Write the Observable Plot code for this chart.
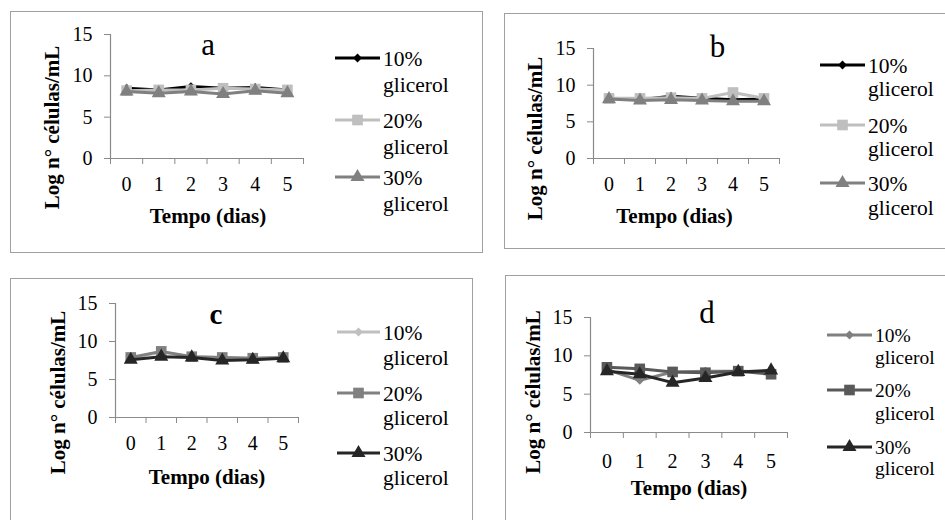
<!DOCTYPE html>
<html><head><meta charset="utf-8">
<script src="https://cdn.jsdelivr.net/npm/d3@7"></script>
<script src="https://cdn.jsdelivr.net/npm/@observablehq/plot@0.6"></script>
<style>
body{margin:0;background:#fff;}
#root{position:relative;width:945px;height:520px;overflow:hidden;font-family:"Liberation Serif","Times New Roman",serif;background:#fff;}
.panel{position:absolute;border:1px solid #a0a0a0;box-sizing:border-box;}
.plot{position:absolute;overflow:visible;}
.legend{position:absolute;overflow:visible;}
.legend text{font-family:"Liberation Serif","Times New Roman",serif;fill:#000;}
</style></head><body><div id="root"></div>
<script>
// ---- data ----
const days = [0, 1, 2, 3, 4, 5];
const seriesNames = ["10% glicerol", "20% glicerol", "30% glicerol"];
const yTicks = [0, 5, 10, 15];
const panelLetters = ["a", "b", "c", "d"];
const yLabel = "Log n\u00b0 células/mL";
const xLabel = "Tempo (dias)";

const a10 = [8.5, 8.3, 8.7, 8.5, 8.6, 8.3];
const a20 = [8.2, 8.3, 8.3, 8.5, 8.4, 8.3];
const a30 = [8.1, 7.9, 8.1, 7.8, 8.2, 7.9];

const b10 = [8.2, 8.0, 8.5, 8.2, 8.0, 8.1];
const b20 = [8.2, 8.2, 8.3, 8.2, 9.0, 8.2];
const b30 = [8.1, 7.9, 8.0, 7.9, 7.8, 7.8];

const c10 = [7.8, 8.6, 8.0, 7.9, 7.8, 7.9];
const c20 = [7.9, 8.7, 8.0, 7.9, 7.8, 7.9];
const c30 = [7.6, 8.0, 7.9, 7.5, 7.6, 7.8];

const d10 = [8.2, 6.8, 7.9, 8.0, 8.0, 7.9];
const d20 = [8.5, 8.3, 7.9, 7.8, 8.0, 7.6];
const d30 = [8.0, 7.6, 6.5, 7.1, 7.9, 8.1];

// ---- styles ----
const symbols = ["diamond2", "square", "triangle"];
const d3Symbols = [d3.symbolDiamond2, d3.symbolSquare, d3.symbolTriangle];
const symbolR = [4, 6, 5.2];
const axisColor = "#8a8a8a";
const FONT = "'Liberation Serif','Times New Roman',serif";

const panels = [
  { letter: panelLetters[0], values: [a10, a20, a30], colors: ["#000000", "#bfbfbf", "#808080"],
    box: [10, 11, 483, 253], frame: [110, 303, 34, 158],
    letterStyle: { dx: 1, dy: 11, size: 31, weight: "normal" },
    yl: { dx: -58, dy: 31 }, xl: { dx: 1, dy: 58 }, tickPad: 18, fs: 20,
    legend: { x0: 335, x1: 380, rows: [58, 84, 120, 146, 177, 203], fs: 21.5 } },
  { letter: panelLetters[1], values: [b10, b20, b30], colors: ["#000000", "#bfbfbf", "#808080"],
    box: [504, 13, 950, 249], frame: [593, 779, 48, 158],
    letterStyle: { dx: 31, dy: -1, size: 31, weight: "normal" },
    yl: { dx: -58, dy: 35 }, xl: { dx: -12, dy: 58 }, tickPad: 18, fs: 20,
    legend: { x0: 820, x1: 865, rows: [65, 88, 125, 148, 183, 207], fs: 21.5 } },
  { letter: panelLetters[2], values: [c10, c20, c30], colors: ["#c0c0c0", "#808080", "#262626"],
    box: [10, 278, 473, 530], frame: [115, 298, 303, 417],
    letterStyle: { dx: 9, dy: 11, size: 29, weight: "bold" },
    yl: { dx: -57, dy: 32 }, xl: { dx: 0, dy: 60 }, tickPad: 18, fs: 20,
    legend: { x0: 337, x1: 380, rows: [332, 357, 393, 417, 453, 477], fs: 21.5 } },
  { letter: panelLetters[3], values: [d10, d20, d30], colors: ["#808080", "#595959", "#262626"],
    box: [505, 275, 950, 530], frame: [590, 787, 317, 432],
    letterStyle: { dx: 18, dy: -4, size: 31, weight: "normal" },
    yl: { dx: -57, dy: 17 }, xl: { dx: 0, dy: 56 }, tickPad: 21, fs: 20,
    legend: { x0: 827, x1: 872, rows: [335, 357, 390, 413, 447, 468], fs: 19.5 } }
];

const root = document.getElementById("root");
const tickBounds = days.map(d => d - 0.5).concat([days[days.length - 1] + 0.5]);

for (const p of panels) {
  const [bl, bt, br, bb] = p.box;
  const [fx0, fx1, fy0, fy1] = p.frame;
  const box = document.createElement("div");
  box.className = "panel";
  Object.assign(box.style, { left: bl + "px", top: bt + "px", width: (br - bl) + "px", height: (bb - bt) + "px" });
  root.appendChild(box);

  const W = br - bl, H = bb - bt;
  const seriesMarks = [];
  p.values.forEach((vals, i) => {
    const rows = days.map((d, k) => ({ day: d, v: vals[k] }));
    seriesMarks.push(Plot.line(rows, { x: "day", y: "v", stroke: p.colors[i], strokeWidth: 3 }));
    seriesMarks.push(Plot.dot(rows, { x: "day", y: "v", symbol: symbols[i], r: symbolR[i], fill: p.colors[i], stroke: "none" }));
  });

  const chart = Plot.plot({
    width: W, height: H,
    marginLeft: fx0 - bl, marginRight: br - fx1, marginTop: fy0 - bt, marginBottom: bb - fy1,
    style: { fontFamily: FONT, fontSize: p.fs + "px", color: "#000", background: "transparent", overflow: "visible" },
    x: { domain: [tickBounds[0], tickBounds[tickBounds.length - 1]] },
    y: { domain: [0, 15] },
    marks: [
      Plot.axisY(yTicks, { tickSize: 6, tickPadding: 12, stroke: axisColor, fill: "#000", label: null, fontSize: p.fs }),
      Plot.axisX(tickBounds, { tickSize: 6, tickFormat: () => "", stroke: axisColor, label: null }),
      Plot.axisX(days, { tickSize: 0, tickPadding: p.tickPad, fill: "#000", label: null, fontSize: p.fs }),
      Plot.ruleY([0], { stroke: axisColor, strokeWidth: 1.2 }),
      Plot.ruleX([tickBounds[0]], { stroke: axisColor, strokeWidth: 1.2 }),
      ...seriesMarks,
      Plot.text([p.letter], { frameAnchor: "top", lineAnchor: "middle", textAnchor: "middle", dx: p.letterStyle.dx, dy: p.letterStyle.dy, fontSize: p.letterStyle.size, fontWeight: p.letterStyle.weight, fill: "#000" }),
      Plot.text([yLabel], { frameAnchor: "left", textAnchor: "middle", lineAnchor: "middle", rotate: -90, dx: p.yl.dx, dy: p.yl.dy, fontWeight: "bold", fontSize: 21, fill: "#000" }),
      Plot.text([xLabel], { frameAnchor: "bottom", textAnchor: "middle", lineAnchor: "middle", dx: p.xl.dx, dy: p.xl.dy, fontWeight: "bold", fontSize: 21, fill: "#000" })
    ]
  });
  chart.classList.add("plot");
  chart.style.left = bl + "px";
  chart.style.top = bt + "px";
  root.appendChild(chart);

  // legend
  const L = p.legend;
  const lg = d3.select(root).append("svg").attr("class", "legend")
    .attr("width", 945).attr("height", 520).style("left", "0px").style("top", "0px")
    .style("position", "absolute").style("pointer-events", "none");
  seriesNames.forEach((name, i) => {
    const parts = name.split(" ");
    const y1 = L.rows[i * 2], y2 = L.rows[i * 2 + 1];
    lg.append("line").attr("x1", L.x0).attr("x2", L.x1).attr("y1", y1).attr("y2", y1)
      .attr("stroke", p.colors[i]).attr("stroke-width", 3);
    lg.append("path").attr("d", d3.symbol(d3Symbols[i], Math.PI * symbolR[i] ** 2)())
      .attr("transform", `translate(${(L.x0 + L.x1) / 2},${y1})`).attr("fill", p.colors[i]);
    lg.append("text").attr("x", L.x1 + 3).attr("y", y1).attr("dy", "0.35em")
      .style("font-family", FONT).style("font-size", L.fs + "px").text(parts[0]);
    lg.append("text").attr("x", L.x1 + 3).attr("y", y2).attr("dy", "0.35em")
      .style("font-family", FONT).style("font-size", L.fs + "px").text(parts[1]);
  });
}
</script></body></html>
